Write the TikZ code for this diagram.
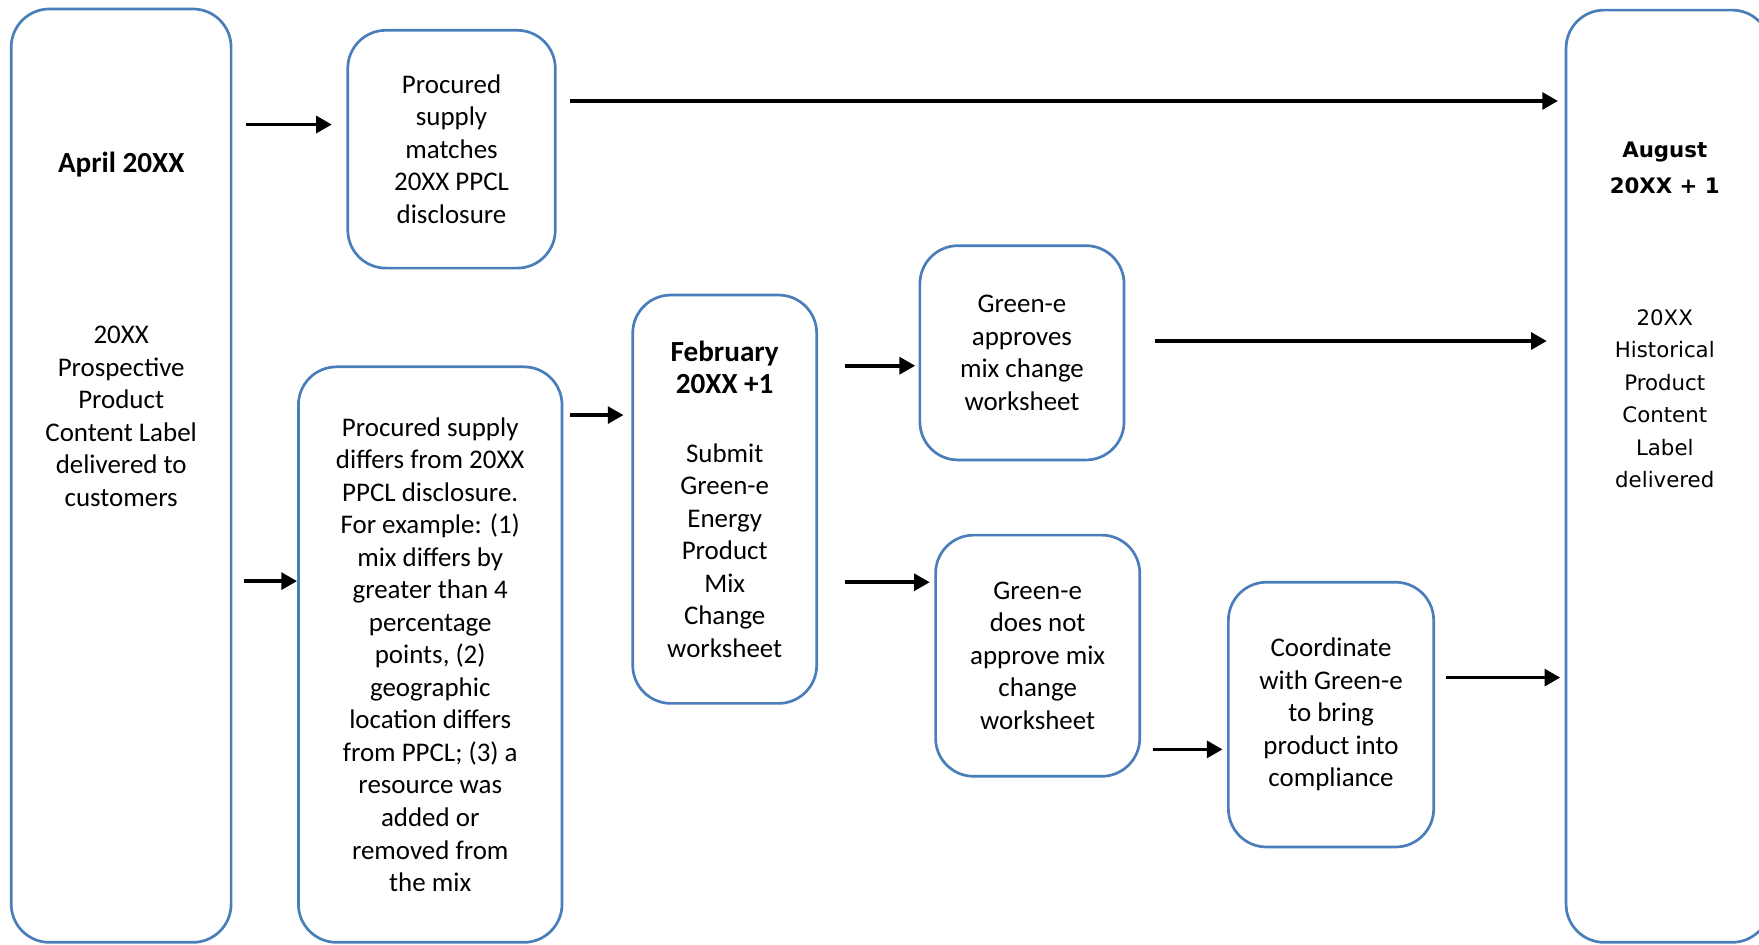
\documentclass[tikz,border=0pt]{standalone}
\usepackage{fontspec}
\setmainfont{Carlito}
\newfontfamily\verdanafont{DejaVu Sans}
\usepackage{tikz}
\usetikzlibrary{arrows.meta,positioning,calc}
\definecolor{boxblue}{HTML}{4A7EBB}
\newcommand{\bighead}[1]{\textbf{\fontsize{13}{15}\selectfont #1}}

\begin{document}
\begin{tikzpicture}[x=0.5pt,y=-0.5pt,
    box/.style={draw=boxblue, line width=1.2pt, rounded corners=17pt, inner sep=0pt,
        align=center, font=\fontsize{12}{14.5}\selectfont},
    txt/.style={align=center, inner sep=0pt, font=\fontsize{12}{14.5}\selectfont},
    head/.style={align=center, inner sep=0pt, font=\fontsize{13}{15}\selectfont\bfseries},
    vtxt/.style={align=center, inner sep=0pt, font=\verdanafont\fontsize{9.5}{14.5}\selectfont},
    vhead/.style={align=center, inner sep=0pt, font=\verdanafont\fontsize{9.5}{16}\selectfont\bfseries},
    flow/.style={-{Triangle[length=7pt,width=7.5pt]}, line width=1.6pt}]
    \useasboundingbox (0,0) rectangle (1568,842);
    \clip (0,0) rectangle (1568,842);

    % boxes
    \node[box, minimum width=98pt, minimum height=416pt] (april) at (108,424) {};
    \node[box, minimum width=92.5pt, minimum height=106pt] (match) at (402.5,133)
        {Procured\\supply\\matches\\20XX PPCL\\disclosure};
    \node[box, minimum width=117.5pt, minimum height=256.5pt] (differs) at (383.5,583.5)
        {Procured supply\\differs from 20XX\\PPCL disclosure.\\For example: (1)\\mix differs by\\greater than 4\\percentage\\points, (2)\\geographic\\location differs\\from PPCL; (3) a\\resource was\\added or\\removed from\\the mix};
    \node[box, minimum width=82pt, minimum height=182pt] (feb) at (646,445)
        {\bighead{February}\\\bighead{20XX +1}\\[16pt]Submit\\Green-e\\Energy\\Product\\Mix\\Change\\worksheet};
    \node[box, minimum width=91pt, minimum height=95.5pt] (approve) at (911,314.5)
        {Green-e\\approves\\mix change\\worksheet};
    \node[box, minimum width=91pt, minimum height=107.5pt] (reject) at (925,584.5)
        {Green-e\\does not\\approve mix\\change\\worksheet};
    \node[box, minimum width=91.5pt, minimum height=118pt] (comply) at (1186.5,637)
        {Coordinate\\with Green-e\\to bring\\product into\\compliance};
    \node[box, minimum width=91pt, minimum height=415.5pt] (august) at (1487,424.5) {};

    \node[head] (aprilhead) at (108,147) {April 20XX};
    \node[txt] (aprilbody) at (108,371) {20XX\\Prospective\\Product\\Content Label\\delivered to\\customers};
    \node[vhead] (augusthead) at (1484,150) {August\\20XX + 1};
    \node[vtxt] (augustbody) at (1484,355.5) {20XX\\Historical\\Product\\Content\\Label\\delivered};

    % arrows
    \draw[flow, shorten <=6pt, shorten >=6.5pt] (april.east |- 0,111) -- (match.west |- 0,111);
    \draw[flow, shorten <=6pt, shorten >=3pt] (match.east |- 0,90) -- (august.west |- 0,90);
    \draw[flow, shorten <=5pt] (april.east |- 0,518) -- (differs.west |- 0,518);
    \draw[flow, shorten <=3pt, shorten >=3.5pt] (differs.east |- 0,370) -- (feb.west |- 0,370);
    \draw[flow, shorten <=12pt, shorten >=1.5pt] (feb.east |- 0,326) -- (approve.west |- 0,326);
    \draw[flow, shorten <=12pt, shorten >=2pt] (feb.east |- 0,519) -- (reject.west |- 0,519);
    \draw[flow, shorten <=13pt, shorten >=8pt] (approve.east |- 0,304) -- (august.west |- 0,304);
    \draw[flow, shorten <=5.5pt, shorten >=2pt] (reject.east |- 0,668) -- (comply.west |- 0,668);
    \draw[flow, shorten <=5pt, shorten >=2pt] (comply.east |- 0,604) -- (august.west |- 0,604);
\end{tikzpicture}
\end{document}
